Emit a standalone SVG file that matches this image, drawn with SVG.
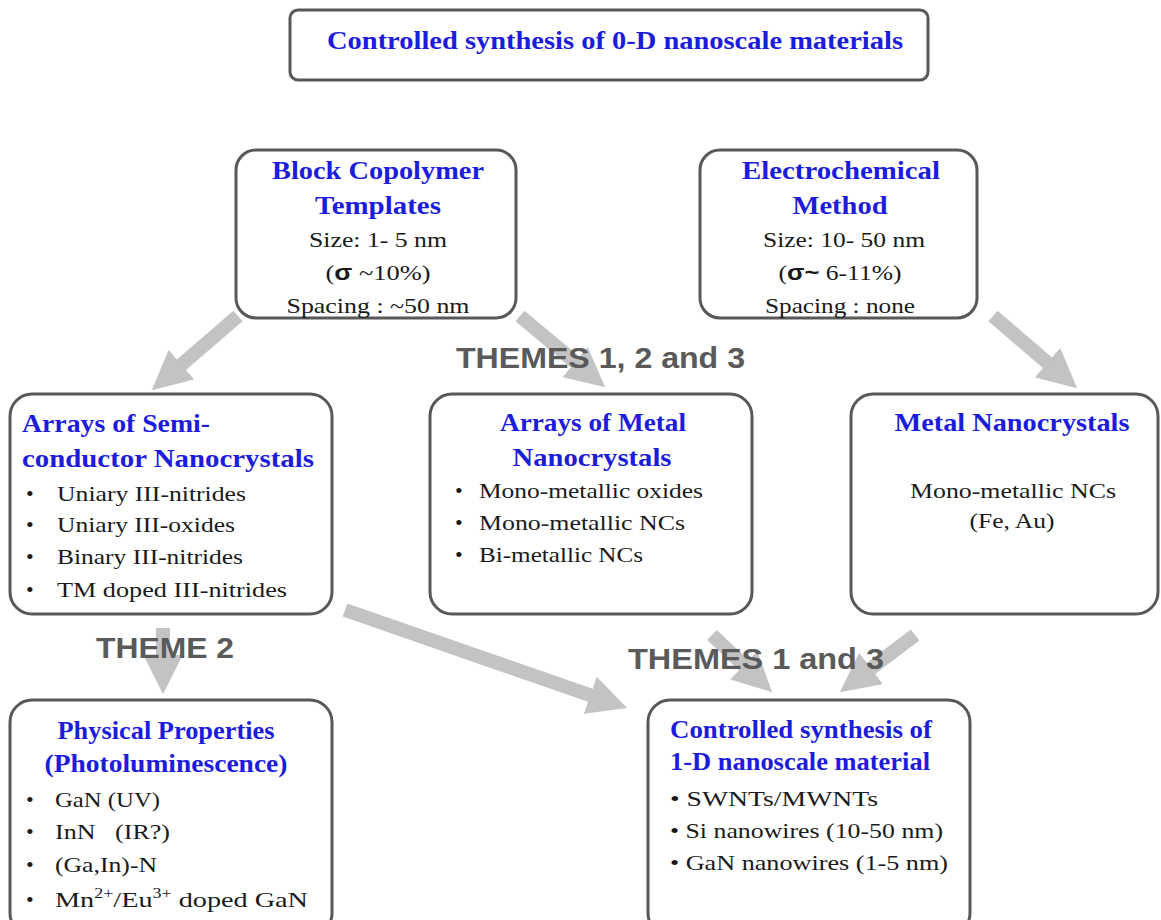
<svg xmlns="http://www.w3.org/2000/svg" width="1161" height="920" viewBox="0 0 1161 920">
<style>
.box{fill:#fff;stroke:#585858;stroke-width:3}
.ttl{font-family:"Liberation Serif",serif;font-weight:bold;font-size:24.5px;fill:#1c1cdc}
.txt{font-family:"Liberation Serif",serif;font-size:22px;fill:#1a1a1a}
.sig{font-family:"Liberation Sans",sans-serif;font-weight:bold}
.theme{font-family:"Liberation Sans",sans-serif;font-weight:bold;font-size:29px;fill:#5a5a5a}
.arr{stroke:#c3c3c3;stroke-width:14;fill:none;marker-end:url(#ah)}
.mid{text-anchor:middle}
</style>
<defs>
<marker id="ah" viewBox="0 0 10 10" refX="1" refY="5" markerWidth="2.8" markerHeight="2.8" orient="auto" markerUnits="strokeWidth">
<path d="M0,0 L10,5 L0,10 z" fill="#c3c3c3"/>
</marker>
</defs>
<rect width="1161" height="920" fill="#fff"/>
<g id="connectors">
<line class="arr" x1="238" y1="316" x2="178.5" y2="367.2"/>
<line class="arr" x1="520" y1="316" x2="578.1" y2="364.6"/>
<line class="arr" x1="993" y1="316" x2="1050.4" y2="365.2"/>
<line class="arr" x1="163" y1="628" x2="163" y2="659"/>
<line class="arr" x1="345" y1="610" x2="593.9" y2="696.5"/>
<line class="arr" x1="712" y1="635" x2="746.6" y2="667.9"/>
<line class="arr" x1="915" y1="635" x2="867.9" y2="670.8"/>
</g>
<g id="labels">
<text class="theme" x="456" y="368" textLength="289" lengthAdjust="spacingAndGlyphs">THEMES 1, 2 and 3</text>
<text class="theme" x="96" y="658" textLength="138" lengthAdjust="spacingAndGlyphs">THEME 2</text>
<text class="theme" x="628" y="669" textLength="256" lengthAdjust="spacingAndGlyphs">THEMES 1 and 3</text>
</g>
<g id="top">
<rect class="box" x="290" y="10" width="638" height="70" rx="8"/>
<text class="ttl mid" x="615" y="49" textLength="576" lengthAdjust="spacingAndGlyphs">Controlled synthesis of 0-D nanoscale materials</text>
</g>
<g id="block">
<rect class="box" x="236" y="150" width="280" height="168" rx="20"/>
<text class="ttl mid" x="378" y="179" textLength="212" lengthAdjust="spacingAndGlyphs">Block Copolymer</text>
<text class="ttl mid" x="378" y="214" textLength="126" lengthAdjust="spacingAndGlyphs">Templates</text>
<text class="txt mid" x="378" y="247" textLength="138" lengthAdjust="spacingAndGlyphs">Size: 1- 5 nm</text>
<text class="txt mid" x="378" y="280" textLength="105" lengthAdjust="spacingAndGlyphs">(<tspan class="sig">σ</tspan> ~10%)</text>
<text class="txt mid" x="378" y="313" textLength="183" lengthAdjust="spacingAndGlyphs">Spacing : ~50 nm</text>
</g>
<g id="electro">
<rect class="box" x="700" y="150" width="277" height="168" rx="20"/>
<text class="ttl mid" x="841" y="179" textLength="198" lengthAdjust="spacingAndGlyphs">Electrochemical</text>
<text class="ttl mid" x="840" y="214" textLength="95" lengthAdjust="spacingAndGlyphs">Method</text>
<text class="txt mid" x="844" y="247" textLength="162" lengthAdjust="spacingAndGlyphs">Size: 10- 50 nm</text>
<text class="txt mid" x="840" y="280" textLength="123" lengthAdjust="spacingAndGlyphs">(<tspan class="sig">σ~</tspan> 6-11%)</text>
<text class="txt mid" x="840" y="313" textLength="150" lengthAdjust="spacingAndGlyphs">Spacing : none</text>
</g>
<g id="semi">
<rect class="box" x="10" y="394" width="322" height="220" rx="22"/>
<text class="ttl" x="22" y="432" textLength="188" lengthAdjust="spacingAndGlyphs">Arrays of Semi-</text>
<text class="ttl" x="22" y="467" textLength="292" lengthAdjust="spacingAndGlyphs">conductor Nanocrystals</text>
<text class="txt" x="26" y="501">•</text><text class="txt" x="57" y="501" textLength="189" lengthAdjust="spacingAndGlyphs">Uniary III-nitrides</text>
<text class="txt" x="26" y="532">•</text><text class="txt" x="57" y="532" textLength="178" lengthAdjust="spacingAndGlyphs">Uniary III-oxides</text>
<text class="txt" x="26" y="564">•</text><text class="txt" x="57" y="564" textLength="186" lengthAdjust="spacingAndGlyphs">Binary III-nitrides</text>
<text class="txt" x="26" y="597">•</text><text class="txt" x="57" y="597" textLength="230" lengthAdjust="spacingAndGlyphs">TM doped III-nitrides</text>
</g>
<g id="metalarrays">
<rect class="box" x="430" y="394" width="322" height="220" rx="22"/>
<text class="ttl mid" x="593" y="431" textLength="186" lengthAdjust="spacingAndGlyphs">Arrays of Metal</text>
<text class="ttl mid" x="592" y="466" textLength="159" lengthAdjust="spacingAndGlyphs">Nanocrystals</text>
<text class="txt" x="455" y="498">•</text><text class="txt" x="479" y="498" textLength="224" lengthAdjust="spacingAndGlyphs">Mono-metallic oxides</text>
<text class="txt" x="455" y="530">•</text><text class="txt" x="479" y="530" textLength="206" lengthAdjust="spacingAndGlyphs">Mono-metallic NCs</text>
<text class="txt" x="455" y="562">•</text><text class="txt" x="479" y="562" textLength="164" lengthAdjust="spacingAndGlyphs">Bi-metallic NCs</text>
</g>
<g id="metalnc">
<rect class="box" x="851" y="394" width="307" height="220" rx="22"/>
<text class="ttl mid" x="1012" y="431" textLength="235" lengthAdjust="spacingAndGlyphs">Metal Nanocrystals</text>
<text class="txt mid" x="1013" y="498" textLength="206" lengthAdjust="spacingAndGlyphs">Mono-metallic NCs</text>
<text class="txt mid" x="1012" y="528" textLength="85" lengthAdjust="spacingAndGlyphs">(Fe, Au)</text>
</g>
<g id="physical">
<rect class="box" x="10" y="700" width="322" height="235" rx="22"/>
<text class="ttl mid" x="166" y="739" textLength="217" lengthAdjust="spacingAndGlyphs">Physical Properties</text>
<text class="ttl mid" x="166" y="772" textLength="243" lengthAdjust="spacingAndGlyphs">(Photoluminescence)</text>
<text class="txt" x="26" y="807">•</text><text class="txt" x="55" y="807" textLength="105" lengthAdjust="spacingAndGlyphs">GaN (UV)</text>
<text class="txt" x="26" y="839">•</text><text class="txt" x="55" y="839" xml:space="preserve" textLength="115" lengthAdjust="spacingAndGlyphs">InN   (IR?)</text>
<text class="txt" x="26" y="872">•</text><text class="txt" x="55" y="872" textLength="102" lengthAdjust="spacingAndGlyphs">(Ga,In)-N</text>
<text class="txt" x="26" y="907">•</text><text class="txt" x="55" y="907" textLength="253" lengthAdjust="spacingAndGlyphs">Mn<tspan dy="-9" font-size="14">2+</tspan><tspan dy="9">/Eu</tspan><tspan dy="-9" font-size="14">3+</tspan><tspan dy="9"> doped GaN</tspan></text>
</g>
<g id="oneD">
<rect class="box" x="648" y="700" width="322" height="235" rx="22"/>
<text class="ttl" x="670" y="738" textLength="262" lengthAdjust="spacingAndGlyphs">Controlled synthesis of</text>
<text class="ttl" x="670" y="770" textLength="260" lengthAdjust="spacingAndGlyphs">1-D nanoscale material</text>
<text class="txt" x="670" y="806" textLength="208" lengthAdjust="spacingAndGlyphs">• SWNTs/MWNTs</text>
<text class="txt" x="670" y="838" textLength="273" lengthAdjust="spacingAndGlyphs">• Si nanowires (10-50 nm)</text>
<text class="txt" x="670" y="870" textLength="278" lengthAdjust="spacingAndGlyphs">• GaN nanowires (1-5 nm)</text>
</g>
</svg>
